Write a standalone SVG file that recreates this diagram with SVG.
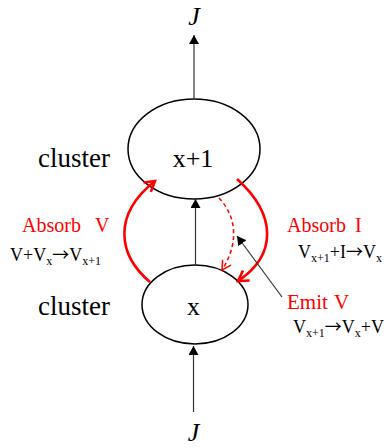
<svg xmlns="http://www.w3.org/2000/svg" width="387" height="448" viewBox="0 0 387 448">
<style>
text{font-family:"Liberation Serif","Times New Roman",serif;fill:#000}
.red{fill:#ff0000}
.node{fill:#fff;stroke:#000;stroke-width:1.5}
.flow{stroke:#333;stroke-width:1.2;fill:none}
.rc{stroke:#ff0000;stroke-width:2.6;fill:none}
.rd{stroke:#ff0000;stroke-width:1.5;fill:none;stroke-dasharray:4 3}
.sub{font-size:12px}
.arr{font-family:"Noto Sans CJK JP","Liberation Serif",serif;font-size:17px}
</style>
<defs>
<marker id="blk" markerUnits="userSpaceOnUse" markerWidth="10" markerHeight="10" refX="9" refY="5" orient="auto">
<path d="M0,0 L9,5 L0,10 z" fill="#000"/>
</marker>
<marker id="ropen" markerUnits="userSpaceOnUse" markerWidth="14" markerHeight="14" refX="11" refY="7" orient="auto">
<path d="M1,1 L11,7 L1,13" fill="none" stroke="#ff0000" stroke-width="2.6"/>
</marker>
<marker id="ropen2" markerUnits="userSpaceOnUse" markerWidth="12" markerHeight="12" refX="10" refY="6" orient="auto">
<path d="M1,1 L10,6 L1,11" fill="none" stroke="#ff0000" stroke-width="1.5"/>
</marker>
</defs>

<g id="upper">
<ellipse class="node" cx="194" cy="149" rx="66" ry="50"/>
<text x="193" y="167" font-size="26" text-anchor="middle">x+1</text>
</g>
<g id="lower">
<ellipse class="node" cx="195" cy="304.5" rx="53" ry="39.5"/>
<text x="193.5" y="315" font-size="26" text-anchor="middle">x</text>
</g>

<g id="connectors">
<line class="flow" x1="194" y1="99" x2="194" y2="35" marker-end="url(#blk)"/>
<line class="flow" x1="195.5" y1="265" x2="195.5" y2="199" marker-end="url(#blk)"/>
<line class="flow" x1="193.5" y1="412" x2="193.5" y2="346" marker-end="url(#blk)"/>
<path class="rc" d="M150,282 C118,255 112,215 155,181" marker-end="url(#ropen)"/>
<path class="rc" d="M237,179 C277,215 277,255 238,281" marker-end="url(#ropen)"/>
<path class="rd" d="M219,198 C238,218 238,245 222,270" marker-end="url(#ropen2)"/>
<line class="flow" x1="282" y1="297" x2="237" y2="236" marker-end="url(#blk)"/>
</g>

<g id="labels">
<text x="194" y="25" font-size="26" font-style="italic" text-anchor="middle">J</text>
<text x="193.5" y="441" font-size="26" font-style="italic" text-anchor="middle">J</text>
<text x="38" y="167" font-size="27">cluster</text>
<text x="38" y="315" font-size="27">cluster</text>
<text class="red" x="22" y="232" font-size="20">Absorb<tspan x="95">V</tspan></text>
<text x="10" y="261" font-size="18">V+V<tspan class="sub" dy="4">x</tspan><tspan class="arr" dy="-4">→</tspan>V<tspan class="sub" dy="4">x+1</tspan></text>
<text class="red" x="287" y="232" font-size="20">Absorb<tspan x="355">I</tspan></text>
<text x="298" y="258" font-size="18">V<tspan class="sub" dy="4">x+1</tspan><tspan dy="-4">+I</tspan><tspan class="arr">→</tspan>V<tspan class="sub" dy="4">x</tspan></text>
<text class="red" x="287" y="309" font-size="21">Emit<tspan x="334">V</tspan></text>
<text x="293" y="333" font-size="18">V<tspan class="sub" dy="4">x+1</tspan><tspan class="arr" dy="-4">→</tspan>V<tspan class="sub" dy="4">x</tspan><tspan dy="-4">+V</tspan></text>
</g>
</svg>
